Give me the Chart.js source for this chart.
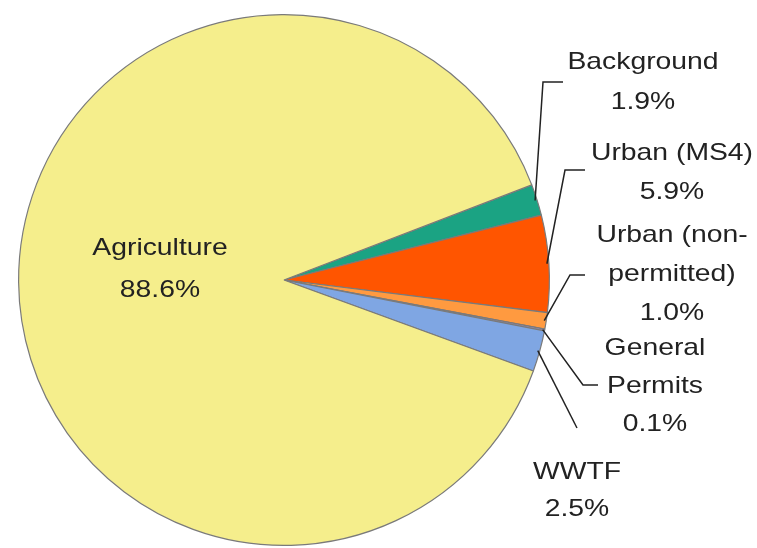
<!DOCTYPE html>
<html>
<head>
<meta charset="utf-8">
<script src="https://cdn.jsdelivr.net/npm/chart.js@4"></script>
<style>
  html, body { margin: 0; padding: 0; background: #ffffff; }
  #wrap { width: 757px; height: 548px; }
</style>
</head>
<body>
<div id="wrap"><canvas id="pie" width="757" height="548"></canvas></div>
<script>
// source names (line breaks as in the figure) and shares in percent
const sources = ['Background', 'Urban (MS4)', 'Urban (non-\npermitted)', 'General\nPermits', 'WWTF', 'Agriculture'];
const shares = [1.9, 5.9, 1.0, 0.1, 2.5, 88.6];
const colors = ['#1ba383', '#ff5500', '#ff9a40', '#a98fd0', '#7fa6e3', '#f5ee8c'];

// label layout: text centre x, first line y, line gap, leader elbow points
const labelLayout = [
  { x: 643, y: 62, gap: 40, leader: [[563, 82], [543, 82]] },
  { x: 672, y: 153, gap: 39, leader: [[585, 170], [565, 170]] },
  { x: 672, y: 235, gap: 39, leader: [[585, 275], [570, 275]] },
  { x: 655, y: 348, gap: 38, leader: [[598, 385], [583, 385]] },
  { x: 577, y: 472, gap: 37, leader: [[577, 428]] },
  { x: 160, y: 248, gap: 42, leader: null }
];

const labelPlugin = {
  id: 'pieLabels',
  afterDraw(chart) {
    const ctx = chart.ctx;
    const arcs = chart.getDatasetMeta(0).data;
    ctx.save();
    ctx.strokeStyle = '#222';
    ctx.lineWidth = 1.5;
    arcs.forEach((arc, i) => {
      const lay = labelLayout[i];
      if (lay.leader) {
        const mid = (arc.startAngle + arc.endAngle) / 2;
        const r = arc.outerRadius - 2;
        ctx.beginPath();
        ctx.moveTo(lay.leader[0][0], lay.leader[0][1]);
        for (let k = 1; k < lay.leader.length; k++) ctx.lineTo(lay.leader[k][0], lay.leader[k][1]);
        ctx.lineTo(arc.x + Math.cos(mid) * r, arc.y + Math.sin(mid) * r);
        ctx.stroke();
      }
      const lines = sources[i].split('\n').concat([shares[i].toFixed(1) + '%']);
      ctx.fillStyle = '#222';
      ctx.font = '24px "Liberation Sans", Arial, sans-serif';
      ctx.textAlign = 'center';
      ctx.textBaseline = 'middle';
      lines.forEach((t, j) => {
        ctx.save();
        ctx.translate(lay.x, lay.y + j * lay.gap);
        ctx.scale(1.18, 1);
        ctx.fillText(t, 0, 0);
        ctx.restore();
      });
    });
    ctx.restore();
  }
};

new Chart(document.getElementById('pie'), {
  type: 'pie',
  data: {
    labels: sources.map(s => s.replace('\n', '')),
    datasets: [{
      data: shares,
      backgroundColor: colors,
      borderColor: '#7a7a7a',
      borderWidth: 1.2
    }]
  },
  options: {
    responsive: false,
    animation: false,
    rotation: 69,
    layout: { padding: { left: 18, right: 207, top: 14, bottom: 2 } },
    events: [],
    plugins: {
      legend: { display: false },
      tooltip: { enabled: false }
    }
  },
  plugins: [labelPlugin]
});
</script>
</body>
</html>
